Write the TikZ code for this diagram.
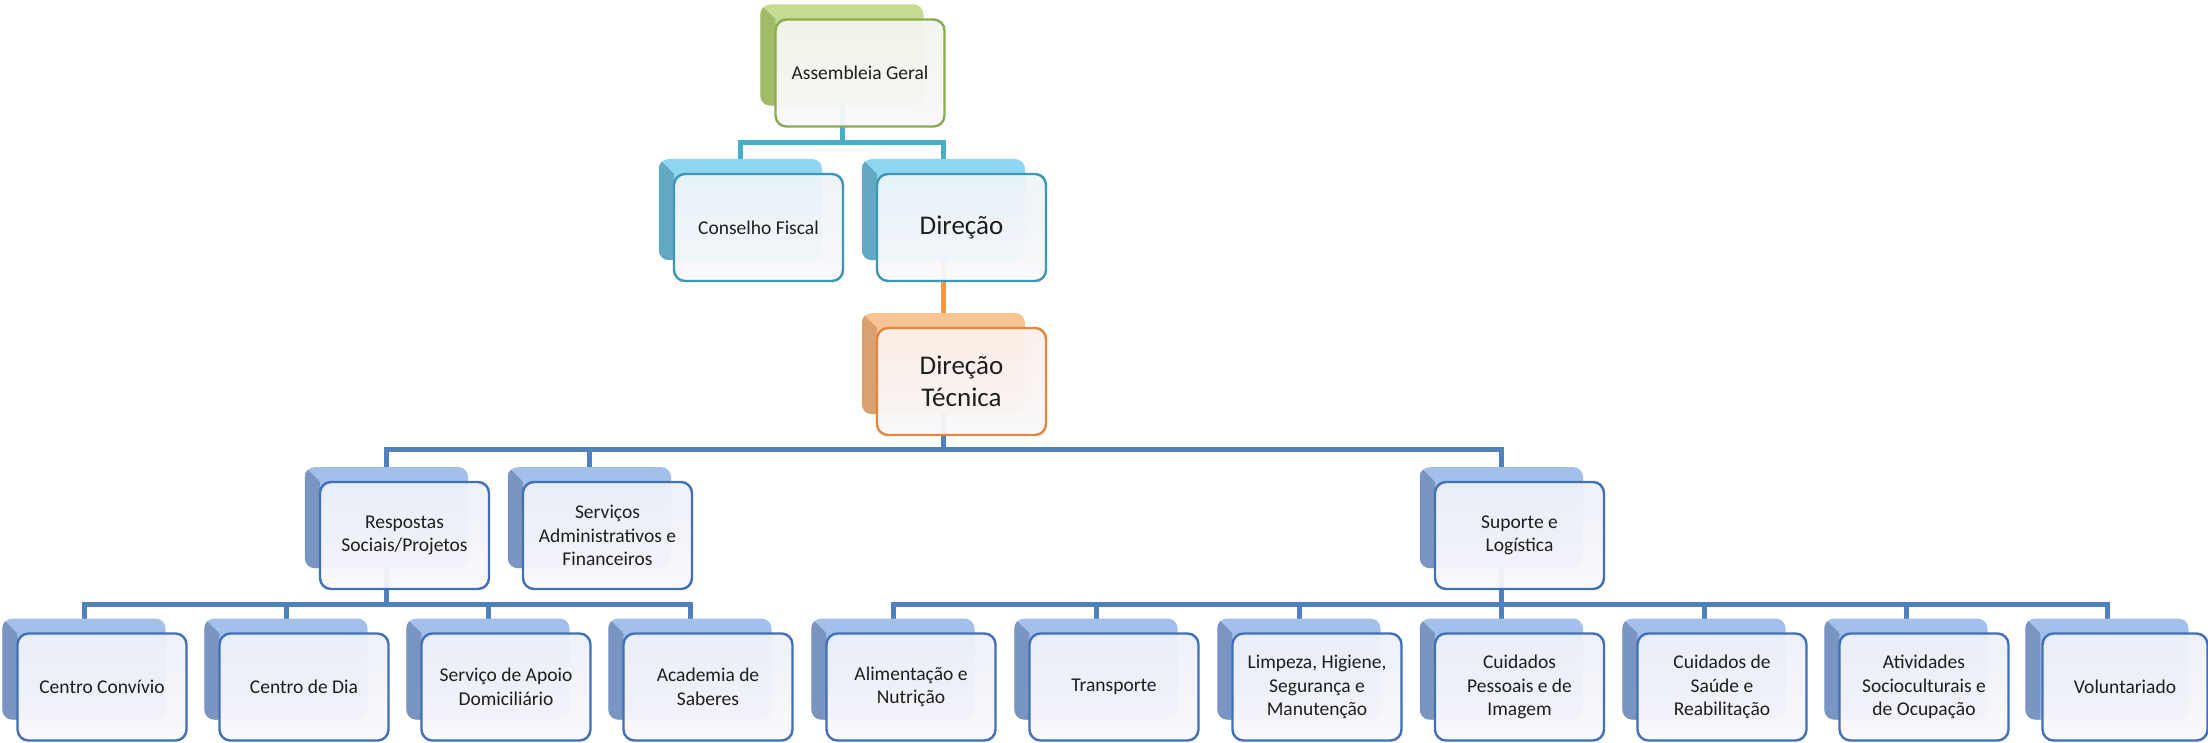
\documentclass[tikz,border=0pt]{standalone}
\usepackage{fontspec}
\setmainfont{Carlito}
\definecolor{gline}{HTML}{8AAA4F}
\definecolor{gtop}{HTML}{C5DB8F}
\definecolor{gleft}{HTML}{A2BB68}
\definecolor{gfill}{HTML}{F2F5EC}
\definecolor{tline}{HTML}{3C97B6}
\definecolor{ttop}{HTML}{8FD7F1}
\definecolor{tleft}{HTML}{63A9C4}
\definecolor{tfill}{HTML}{ECF4F8}
\definecolor{oline}{HTML}{E2853F}
\definecolor{otop}{HTML}{F9C494}
\definecolor{oleft}{HTML}{D9A070}
\definecolor{ofill}{HTML}{FBF0EA}
\definecolor{bline}{HTML}{4170B8}
\definecolor{btop}{HTML}{A2C0EA}
\definecolor{bleft}{HTML}{7B95C2}
\definecolor{bfill}{HTML}{EDF1F9}
\definecolor{lowfill}{HTML}{FAF8FB}
\definecolor{cteal}{HTML}{4BACC6}
\definecolor{corange}{HTML}{F79646}
\definecolor{cblue}{HTML}{4F81BD}
\definecolor{txt}{HTML}{1E1E1E}
\tikzset{
  shadowbox/.style={rectangle, rounded corners=10pt, minimum width=163pt, minimum height=101pt, inner sep=0pt},
  frontbox/.style={rectangle, rounded corners=11pt, minimum width=169pt, minimum height=107pt, inner sep=0pt, line width=2.4pt, align=center, text=txt, fill opacity=0.94, text opacity=1, font=\fontsize{19.5}{23.5}\selectfont},
  bigtext/.style={font=\fontsize{27}{32}\selectfont},
  conn/.style={line width=5pt},
}
\newcommand\orgbox[6]{%
  \node[shadowbox, fill=#4top] (#1-s) at (#2-18,#3-18) {};
  \begin{scope}
    \clip[rounded corners=10pt] (#1-s.north west) rectangle (#1-s.south east);
    \fill[#4left] (#1-s.north west) -- ++(15,15) -- ++(0,200) -- ++(-15,0) -- cycle;
  \end{scope}
  \node[frontbox, draw=#4line, top color=#4fill, bottom color=lowfill, #6] (#1) at (#2,#3) {#5};
}
\begin{document}
\begin{tikzpicture}[x=1pt,y=-1pt]
\useasboundingbox (0,0) rectangle (2208,743);
\fill[white] (0,0) rectangle (2208,743);
% bus coordinates
\coordinate (busA) at (0,143);
\coordinate (busB) at (0,449);
\coordinate (busC) at (0,604);
% connector anchors (shadow centres)
\path
  (860-18,73-18) coordinate (agc)
  (758.5-18,227.5-18) coordinate (cfc)
  (961.5-18,227.5-18) coordinate (dic)
  (961.5-18,381.5-18) coordinate (dtc)
  (404.5-18,535.5-18) coordinate (rsc)
  (607.5-18,535.5-18) coordinate (sac)
  (1519.5-18,535.5-18) coordinate (slc);
% connectors
\draw[conn, cteal] (agc) -- (agc |- busA) -| (cfc);
\draw[conn, cteal] (agc |- busA) -| (dic);
\draw[conn, corange] (dic) -- (dtc);
\draw[conn, cblue] (dtc) -- (dtc |- busB) -| (rsc);
\draw[conn, cblue] (dtc |- busB) -| (sac);
\draw[conn, cblue] (dtc |- busB) -| (slc);
\foreach \cx in {102,304,506,708} {
  \draw[conn, cblue] (rsc) -- (rsc |- busC) -| (\cx-18,687-18);
}
\foreach \cx in {911,1114,1317,1519.5,1722,1924,2125} {
  \draw[conn, cblue] (slc) -- (slc |- busC) -| (\cx-18,687-18);
}
% boxes
\orgbox{ag}{860}{73}{g}{Assembleia Geral}{}
\orgbox{cf}{758.5}{227.5}{t}{Conselho Fiscal}{}
\orgbox{di}{961.5}{227.5}{t}{Direção}{bigtext}
\orgbox{dt}{961.5}{381.5}{o}{Direção\\Técnica}{bigtext}
\orgbox{rs}{404.5}{535.5}{b}{Respostas\\Sociais/Projetos}{}
\orgbox{sa}{607.5}{535.5}{b}{Serviços\\Administrativos e\\Financeiros}{}
\orgbox{sl}{1519.5}{535.5}{b}{Suporte e\\Logística}{}
\orgbox{cc}{102}{687}{b}{Centro Convívio}{}
\orgbox{cd}{304}{687}{b}{Centro de Dia}{}
\orgbox{sd}{506}{687}{b}{Serviço de Apoio\\Domiciliário}{}
\orgbox{as}{708}{687}{b}{Academia de\\Saberes}{}
\orgbox{an}{911}{687}{b}{Alimentação e\\Nutrição}{}
\orgbox{tr}{1114}{687}{b}{Transporte}{}
\orgbox{lh}{1317}{687}{b}{Limpeza, Higiene,\\Segurança e\\Manutenção}{}
\orgbox{cp}{1519.5}{687}{b}{Cuidados\\Pessoais e de\\Imagem}{}
\orgbox{cs}{1722}{687}{b}{Cuidados de\\Saúde e\\Reabilitação}{}
\orgbox{ao}{1924}{687}{b}{Atividades\\Socioculturais e\\de Ocupação}{}
\orgbox{vo}{2125}{687}{b}{Voluntariado}{minimum width=165pt}
\end{tikzpicture}
\end{document}
